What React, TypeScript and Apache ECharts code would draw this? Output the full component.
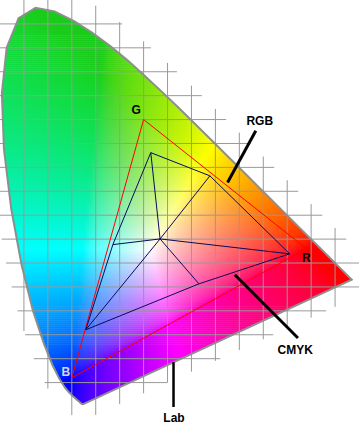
import React, { useEffect, useRef } from "react";
import * as echarts from "echarts";

// CIE 1931 2° spectral locus: wavelength (nm), x, y
const locusNm = [380, 390, 400, 410, 420, 430, 440, 445, 450, 455, 460, 465, 470, 475, 480, 485, 490, 495, 500, 505, 510, 515, 520, 525, 530, 535, 540, 545, 550, 555, 560, 565, 570, 575, 580, 585, 590, 595, 600, 605, 610, 620, 630, 640, 650, 660, 680, 700];
const locusX = [0.1741, 0.1738, 0.1733, 0.1726, 0.1714, 0.1689, 0.1644, 0.1611, 0.1566, 0.151, 0.144, 0.1355, 0.1241, 0.1096, 0.0913, 0.0687, 0.0454, 0.0235, 0.0082, 0.0039, 0.0139, 0.0389, 0.0743, 0.1142, 0.1547, 0.1929, 0.2296, 0.2658, 0.3016, 0.3373, 0.3731, 0.4087, 0.4441, 0.4788, 0.5125, 0.5448, 0.5752, 0.6029, 0.627, 0.6482, 0.6658, 0.6915, 0.7079, 0.719, 0.726, 0.73, 0.7334, 0.7347];
const locusY = [0.005, 0.0049, 0.0048, 0.0048, 0.0051, 0.0069, 0.0109, 0.0138, 0.0177, 0.0227, 0.0297, 0.0399, 0.0578, 0.0868, 0.1327, 0.2007, 0.295, 0.4127, 0.5384, 0.6548, 0.7502, 0.812, 0.8338, 0.8262, 0.8059, 0.7816, 0.7543, 0.7243, 0.6923, 0.6589, 0.6245, 0.5896, 0.5547, 0.5202, 0.4866, 0.4544, 0.4242, 0.3965, 0.3725, 0.3514, 0.334, 0.3083, 0.292, 0.2809, 0.274, 0.27, 0.2666, 0.2653];

// RGB (sRGB) primaries
const rgbNames = ["R", "G", "B"];
const rgbX = [0.64, 0.3, 0.15];
const rgbY = [0.33, 0.6, 0.06];

// CMYK gamut vertices (G, Y, R, M, B, C) and its white point
const cmykNames = ["G", "Y", "R", "M", "B", "C"];
const cmykX = [0.315, 0.4385, 0.6052, 0.4156, 0.1792, 0.2358];
const cmykY = [0.5308, 0.4823, 0.3192, 0.2565, 0.1604, 0.3385];
const cmykWhite = [0.3344, 0.3504];

// grid lines every 0.05
const gridXTicks = [0.05, 0.1, 0.15, 0.2, 0.25, 0.3, 0.35, 0.4, 0.45, 0.5, 0.55, 0.6, 0.65, 0.7];
const gridYTicks = [0.05, 0.1, 0.15, 0.2, 0.25, 0.3, 0.35, 0.4, 0.45, 0.5, 0.55, 0.6, 0.65, 0.7, 0.75, 0.8];

// annotations (in chromaticity coordinates)
const labelTexts = ["G", "R", "B", "RGB", "CMYK", "Lab"];
const labelX = [0.2844, 0.64, 0.1375, 0.5427, 0.6167, 0.3635];
const labelY = [0.6198, 0.3115, 0.0719, 0.5969, 0.1188, -0.024];
const leaderX1 = [0.5344, 0.4906, 0.3625];
const leaderY1 = [0.5765, 0.2754, 0.0927];
const leaderX2 = [0.4754, 0.6225, 0.3625];
const leaderY2 = [0.4684, 0.1433, -0.001];

const PX = 1 / 480; // one pixel in chromaticity units

// display colour space used to paint the diagram (wide-gamut, D65 white)
const paintPrimX = [0.64, 0.21, 0.15];
const paintPrimY = [0.33, 0.71, 0.06];
const paintWhite = [0.3127, 0.329];

function inv3(m: number[][]) {
  const [a, b, c] = m[0], [d, e, f] = m[1], [g, h, i] = m[2];
  const A = e * i - f * h, B = -(d * i - f * g), C = d * h - e * g;
  const det = a * A + b * B + c * C;
  return [
    [A / det, -(b * i - c * h) / det, (b * f - c * e) / det],
    [B / det, (a * i - c * g) / det, -(a * f - c * d) / det],
    [C / det, -(a * h - b * g) / det, (a * e - b * d) / det],
  ];
}
const xyz = (x: number, y: number) => [x / y, 1, (1 - x - y) / y];
const XYZ2RGB = (() => {
  const cols = paintPrimX.map((x, i) => xyz(x, paintPrimY[i]));
  const P = [0, 1, 2].map((r) => cols.map((c) => c[r]));
  const w = xyz(paintWhite[0], paintWhite[1]);
  const Pi = inv3(P);
  const S = Pi.map((row) => row[0] * w[0] + row[1] * w[1] + row[2] * w[2]);
  const M = P.map((row) => row.map((v, j) => v * S[j]));
  return inv3(M);
})();

function gam(c: number) {
  const v = c <= 0.0031308 ? 12.92 * c : 1.055 * Math.pow(c, 1 / 2.4) - 0.055;
  return Math.max(0, Math.min(1, v));
}

function xyColor(x: number, yy: number) {
  const y = Math.max(yy, 0.002);
  const v = xyz(x, y);
  const lin = XYZ2RGB.map((row) => Math.max(0, row[0] * v[0] + row[1] * v[1] + row[2] * v[2]));
  const m = Math.max(lin[0], lin[1], lin[2], 1e-6);
  let R = gam(Math.pow(lin[0] / m, 1.25)), G = gam(Math.pow(lin[1] / m, 1.25)), B = gam(Math.pow(lin[2] / m, 1.25));
  const gd = Math.max(0, G - Math.max(R, B));
  const gb = Math.max(0, G - B);
  B = B * (1 - 0.7 * gb * gb);
  G = G * (1 - 0.2 * gd);
  R = R + 0.1 * gd * (1 - R);
  B = B + 0.1 * gd * (1 - B);
  return `rgb(${Math.round(R * 255)},${Math.round(G * 255)},${Math.round(B * 255)})`;
}

const locus: number[][] = locusX.map((x, i) => [x, locusY[i]]);

function clipY(poly: number[][], yv: number, above: boolean) {
  const out: number[][] = [];
  for (let i = 0; i < poly.length; i++) {
    const p = poly[i], q = poly[(i + 1) % poly.length];
    const pin = above ? p[1] >= yv : p[1] <= yv;
    const qin = above ? q[1] >= yv : q[1] <= yv;
    if (pin) out.push(p);
    if (pin !== qin) {
      const t = (yv - p[1]) / (q[1] - p[1]);
      out.push([p[0] + t * (q[0] - p[0]), yv]);
    }
  }
  return out;
}

// horizontal colour bands
const bands: { poly: number[][]; xa: number; xb: number; ym: number }[] = [];
{
  const step = 2 * PX;
  for (let y0 = 0; y0 < 0.845; y0 += step) {
    let poly = clipY(locus, y0, true);
    if (poly.length < 3) continue;
    poly = clipY(poly, y0 + step + 0.6 * PX, false);
    if (poly.length < 3) continue;
    const xs = poly.map((p) => p[0]);
    bands.push({ poly, xa: Math.min(...xs), xb: Math.max(...xs), ym: y0 + step / 2 });
  }
}

// envelope around the locus that bounds the grid lines
function envelope() {
  const n = locus.length;
  let area = 0;
  for (let i = 0; i < n; i++) {
    const p = locus[i], q = locus[(i + 1) % n];
    area += p[0] * q[1] - q[0] * p[1];
  }
  const en: number[][] = [];
  for (let i = 0; i < n; i++) {
    const p = locus[i], q = locus[(i + 1) % n];
    const dx = q[0] - p[0], dy = q[1] - p[1];
    const l = Math.hypot(dx, dy) || 1;
    en.push(area > 0 ? [dy / l, -dx / l] : [-dy / l, dx / l]);
  }
  return locus.map((p, i) => {
    const a = en[(i - 1 + n) % n], b = en[i];
    let nx = a[0] + b[0], ny = a[1] + b[1];
    const l = Math.hypot(nx, ny) || 1;
    nx /= l; ny /= l;
    const miter = 1 / Math.max(0.65, nx * b[0] + ny * b[1]);
    const d = (15 + 10 * Math.max(0, (nx + ny) / Math.SQRT2)) * PX * miter;
    return [p[0] + nx * d, p[1] + ny * d];
  });
}

const gridSegs: number[][] = [];
{
  const env = envelope();
  const n = env.length;
  gridXTicks.forEach((c) => {
    const ys: number[] = [];
    for (let i = 0; i < n; i++) {
      const p = env[i], q = env[(i + 1) % n];
      if ((p[0] <= c && q[0] > c) || (q[0] <= c && p[0] > c)) ys.push(p[1] + ((c - p[0]) / (q[0] - p[0])) * (q[1] - p[1]));
    }
    ys.sort((a, b) => a - b);
    for (let k = 0; k + 1 < ys.length; k += 2) gridSegs.push([c, ys[k], c, ys[k + 1]]);
  });
  gridYTicks.forEach((c) => {
    const xs: number[] = [];
    for (let i = 0; i < n; i++) {
      const p = env[i], q = env[(i + 1) % n];
      if ((p[1] <= c && q[1] > c) || (q[1] <= c && p[1] > c)) xs.push(p[0] + ((c - p[1]) / (q[1] - p[1])) * (q[0] - p[0]));
    }
    xs.sort((a, b) => a - b);
    for (let k = 0; k + 1 < xs.length; k += 2) gridSegs.push([xs[k], c, xs[k + 1], c]);
  });
}

const cmykSegs: number[][] = [];
for (let i = 0; i < cmykX.length; i++) {
  const j = (i + 1) % cmykX.length;
  cmykSegs.push([cmykX[i], cmykY[i], cmykX[j], cmykY[j]]);
  cmykSegs.push([cmykWhite[0], cmykWhite[1], cmykX[i], cmykY[i]]);
}

const FONT = 'bold 12px "Liberation Sans", Arial, sans-serif';

export default function App() {
  const ref = useRef<HTMLDivElement>(null);
  useEffect(() => {
    if (!ref.current) return;
    const chart = echarts.init(ref.current, undefined, { renderer: "svg" });
    const segRender = (color: string, widths: number[] | number) => (params: any, api: any) => {
      const a = api.coord([api.value(0), api.value(1)]);
      const b = api.coord([api.value(2), api.value(3)]);
      const w = Array.isArray(widths) ? widths[params.dataIndex] : widths;
      return { type: "line", shape: { x1: a[0], y1: a[1], x2: b[0], y2: b[1] }, style: { stroke: color, lineWidth: w } };
    };
    chart.setOption({
      animation: false,
      backgroundColor: "#ffffff",
      grid: { left: -0.5, top: -1.5, width: 360, height: 408 },
      xAxis: { type: "value", min: 0, max: 0.75, show: false },
      yAxis: { type: "value", min: 0, max: 0.85, show: false },
      series: [
        {
          type: "custom",
          silent: true,
          clip: false,
          data: bands.map((_, i) => [i]),
          renderItem: (params: any, api: any) => {
            const bd = bands[params.dataIndex];
            const pts = bd.poly.map((p) => api.coord(p));
            const pa = api.coord([bd.xa, bd.ym]);
            const pb = api.coord([bd.xb, bd.ym]);
            const n = Math.max(2, Math.ceil((bd.xb - bd.xa) / (5 * PX)) + 1);
            const stops = [];
            for (let k = 0; k < n; k++) {
              const t = k / (n - 1);
              stops.push({ offset: t, color: xyColor(bd.xa + t * (bd.xb - bd.xa), bd.ym) });
            }
            return {
              type: "polygon",
              shape: { points: pts },
              style: { fill: new echarts.graphic.LinearGradient(pa[0], pa[1], Math.max(pb[0], pa[0] + 0.5), pb[1], stops, true) },
            };
          },
        },
        {
          type: "custom",
          silent: true,
          clip: false,
          data: gridSegs,
          renderItem: segRender("#999999", 1),
        },
        {
          type: "custom",
          silent: true,
          clip: false,
          data: [[0]],
          renderItem: (params: any, api: any) => ({
            type: "polygon",
            shape: { points: locus.map((p) => api.coord(p)) },
            style: { fill: "none", stroke: "#8e8e8e", lineWidth: 2 },
          }),
        },
        {
          type: "custom",
          silent: true,
          clip: false,
          data: [[0]],
          renderItem: (params: any, api: any) => ({
            type: "polygon",
            shape: { points: rgbX.map((x, i) => api.coord([x, rgbY[i]])) },
            style: { fill: "none", stroke: "#ff0000", lineWidth: 1 },
          }),
        },
        {
          type: "custom",
          silent: true,
          clip: false,
          data: cmykSegs,
          renderItem: segRender("#0a0a5c", 1),
        },
        {
          type: "custom",
          silent: true,
          clip: false,
          data: leaderX1.map((x, i) => [x, leaderY1[i], leaderX2[i], leaderY2[i]]),
          renderItem: segRender("#000000", [3, 3, 2.5]),
        },
        {
          type: "custom",
          silent: true,
          clip: false,
          data: labelX.map((x, i) => [x, labelY[i]]),
          renderItem: (params: any, api: any) => {
            const p = api.coord([api.value(0), api.value(1)]);
            const t = labelTexts[params.dataIndex];
            return {
              type: "text",
              x: p[0],
              y: p[1],
              style: { text: t, fill: t === "B" ? "#d6d6e6" : "#000000", font: FONT, align: "center", verticalAlign: "middle" },
            };
          },
        },
      ],
    });
    return () => chart.dispose();
  }, []);
  return <div ref={ref} style={{ position: "fixed", left: 0, top: 0, width: 359, height: 428 }} />;
}
